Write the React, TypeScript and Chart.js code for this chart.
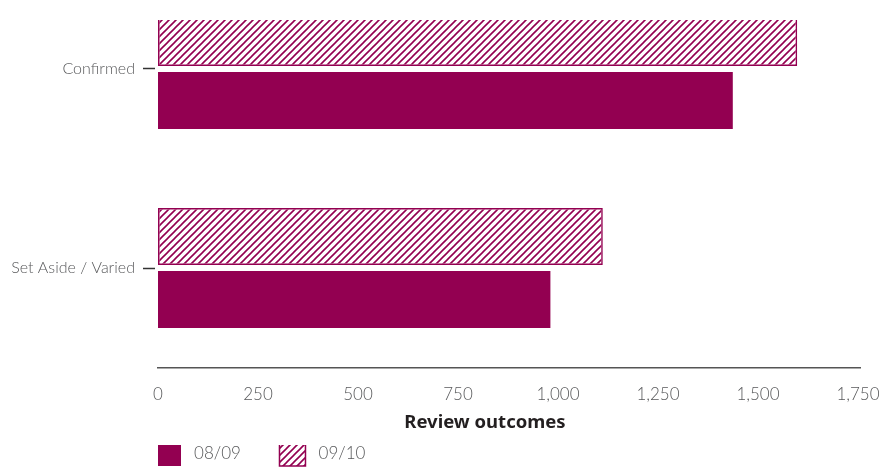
import React, { useEffect, useRef } from 'react';
import { Chart, registerables } from 'chart.js';

Chart.register(...registerables);

// ---- data ----
const categories = ['Confirmed', 'Set Aside / Varied'];
const seriesLabels = ['08/09', '09/10'];
const values0809 = [1437, 981];
const values0910 = [1598, 1112];
const xTickValues = [0, 250, 500, 750, 1000, 1250, 1500, 1750];
const xTitle = 'Review outcomes';

const PLUM = '#930051';
const GREY = '#58595b';

function makeHatch(): CanvasPattern | string {
  const s = 7;
  const c = document.createElement('canvas');
  c.width = s;
  c.height = s;
  const g = c.getContext('2d');
  if (!g) return PLUM;
  g.strokeStyle = PLUM;
  g.lineWidth = 1.6;
  g.beginPath();
  g.moveTo(-1, s + 1);
  g.lineTo(s + 1, -1);
  g.moveTo(-1, 1);
  g.lineTo(1, -1);
  g.moveTo(s - 1, s + 1);
  g.lineTo(s + 1, s - 1);
  g.stroke();
  return g.createPattern(c, 'repeat') || PLUM;
}

export default function App() {
  const ref = useRef<HTMLCanvasElement>(null);

  useEffect(() => {
    if (!ref.current) return;
    const hatch = makeHatch();
    const chart = new Chart(ref.current, {
      type: 'bar',
      data: {
        datasets: [
          {
            label: seriesLabels[1],
            data: values0910.map((v, i) => ({ x: v, y: i })),
            backgroundColor: hatch as any,
            borderColor: PLUM,
            borderWidth: 1.5,
            borderSkipped: false,
            categoryPercentage: 0.635,
            barPercentage: 0.903,
          },
          {
            label: seriesLabels[0],
            data: values0809.map((v, i) => ({ x: v, y: i })),
            backgroundColor: PLUM,
            borderWidth: 0,
            categoryPercentage: 0.635,
            barPercentage: 0.903,
          },
        ],
      },
      options: {
        indexAxis: 'y',
        animation: false,
        responsive: false,
        events: [],
        layout: { padding: { left: 2, right: 25, top: 20, bottom: 2 } },
        scales: {
          x: {
            type: 'linear',
            min: 0,
            max: 1755,
            afterBuildTicks: (s: any) => {
              s.ticks = xTickValues.map((v) => ({ value: v }));
            },
            afterFit: (s: any) => {
              s.height = 77;
            },
            grid: { display: false, drawTicks: true, tickLength: 16 },
            border: { display: true, color: '#555', width: 1.5 },
            ticks: {
              padding: 0,
              color: GREY,
              font: { family: 'Lato', size: 17, weight: '300' as any },
              callback: (v: any) => Number(v).toLocaleString('en-US'),
            },
            title: {
              display: true,
              text: xTitle + '          ',
              color: '#231f20',
              font: { family: 'Noto Sans', size: 18.5, weight: 'bold', lineHeight: 1 },
              padding: { top: 0, bottom: 13 },
            },
          },
          y: {
            type: 'linear',
            reverse: true,
            offset: false,
            min: -0.2462,
            max: 1.5025,
            afterBuildTicks: (s: any) => {
              s.ticks = categories.map((_, i) => ({ value: i }));
            },
            afterFit: (s: any) => {
              s.width = 156;
            },
            grid: {
              display: true,
              offset: false,
              drawOnChartArea: false,
              drawTicks: true,
              tickLength: 15,
              tickBorderDash: [12, 20],
              tickColor: '#333',
              tickWidth: 1.5,
            },
            border: { display: false },
            ticks: {
              padding: 8,
              autoSkip: false,
              color: GREY,
              font: { family: 'Lato', size: 16, weight: '300' as any },
              callback: (v: any) => categories[Math.round(Number(v))] ?? '',
            },
          },
        },
        plugins: {
          tooltip: { enabled: false },
          legend: {
            position: 'bottom',
            align: 'start',
            fullSize: false,
            reverse: true,
            labels: {
              boxWidth: 26,
              boxHeight: 24,
              padding: -3,
              color: GREY,
              font: { family: 'Lato', size: 17, weight: '300' as any },
              generateLabels: (c: any) => {
                const items = Chart.defaults.plugins.legend.labels.generateLabels(c);
                return items.map((it: any) => ({
                  ...it,
                  text: it.datasetIndex === 1 ? ' ' + it.text + '         ' : ' ' + it.text,
                }));
              },
            },
          },
        },
      } as any,
    });
    return () => chart.destroy();
  }, []);

  return (
    <div style={{ position: 'fixed', left: 0, top: 0, width: 885, height: 478, background: '#fff' }}>
      <canvas ref={ref} width={885} height={478} style={{ display: 'block', width: 885, height: 478 }} />
    </div>
  );
}
